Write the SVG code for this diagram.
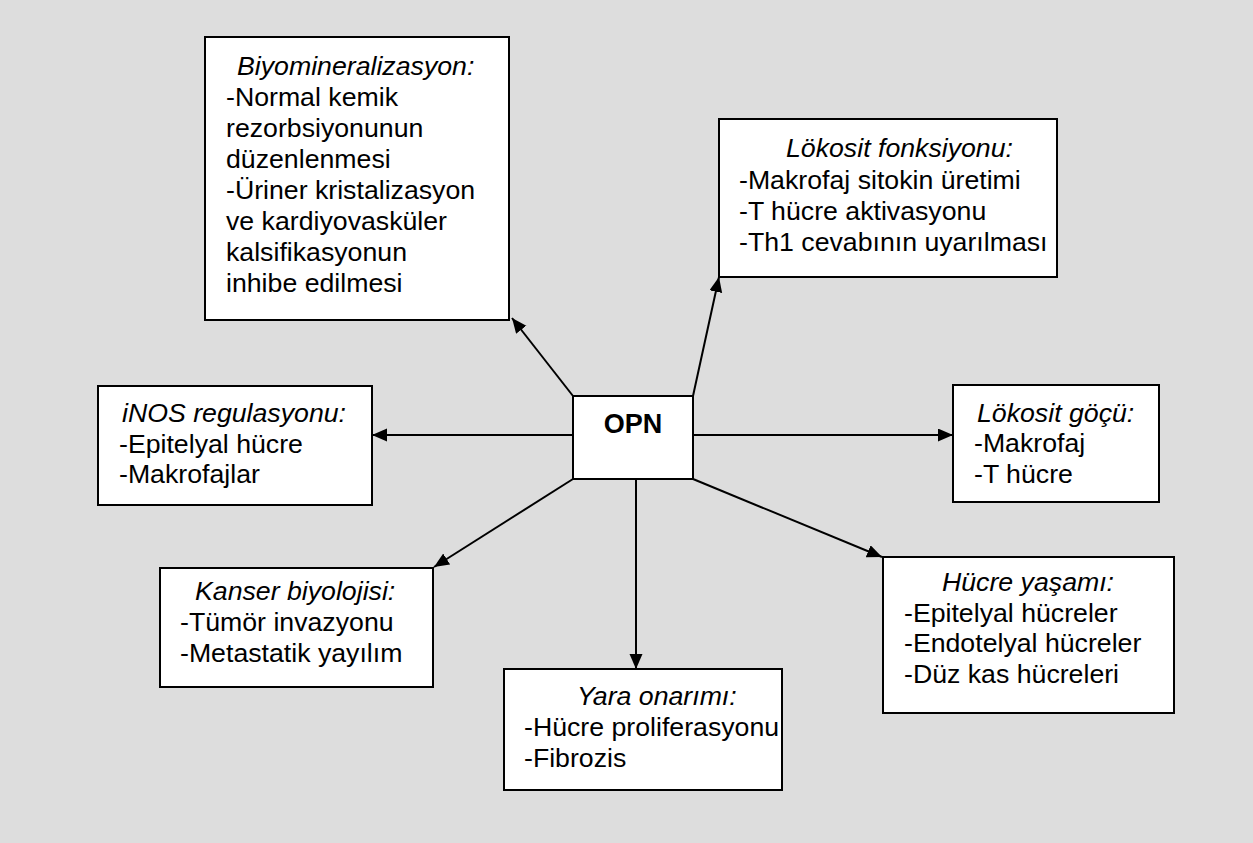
<svg xmlns="http://www.w3.org/2000/svg" width="1253" height="843" viewBox="0 0 1253 843">
<style>
.box{fill:#fff;stroke:#000;stroke-width:2}
.t{font-family:"Liberation Sans",Arial,sans-serif;font-size:26.7px;fill:#000}
.ti{font-style:italic}
.opn{font-family:"Liberation Sans",Arial,sans-serif;font-size:27px;font-weight:bold;fill:#000}
.c{stroke:#000;stroke-width:2;fill:none;marker-end:url(#ah)}
</style>
<defs>
<marker id="ah" markerUnits="userSpaceOnUse" markerWidth="16" markerHeight="14" refX="15" refY="6.5" orient="auto">
<path d="M0,0 L15,6.5 L0,13 Z" fill="#000"/>
</marker>
</defs>
<rect x="0" y="0" width="1253" height="843" fill="#dddddd"/>
<g id="connectors">
<line class="c" x1="573" y1="396" x2="512" y2="318"/>
<line class="c" x1="693" y1="396" x2="719" y2="277"/>
<line class="c" x1="573" y1="435" x2="372" y2="435"/>
<line class="c" x1="693" y1="435" x2="953" y2="435"/>
<line class="c" x1="573" y1="479" x2="434" y2="567"/>
<line class="c" x1="636" y1="479" x2="636" y2="669"/>
<line class="c" x1="693" y1="479" x2="882" y2="557"/>
</g>
<g id="opn">
<rect class="box" x="573" y="396" width="120" height="83"/>
<text class="opn" x="633" y="433" text-anchor="middle">OPN</text>
</g>
<g id="biyomineralizasyon">
<rect class="box" x="205" y="37" width="304" height="283"/>
<g class="t">
<text class="ti" x="237" y="75">Biyomineralizasyon:</text>
<text x="226" y="106">-Normal kemik</text>
<text x="226" y="137">rezorbsiyonunun</text>
<text x="226" y="168">düzenlenmesi</text>
<text x="226" y="199">-Üriner kristalizasyon</text>
<text x="226" y="230">ve kardiyovasküler</text>
<text x="226" y="261">kalsifikasyonun</text>
<text x="226" y="292">inhibe edilmesi</text>
</g>
</g>
<g id="lokosit-fonksiyonu">
<rect class="box" x="719" y="119" width="338" height="158"/>
<g class="t">
<text class="ti" x="786" y="157">Lökosit fonksiyonu:</text>
<text x="739" y="189">-Makrofaj sitokin üretimi</text>
<text x="739" y="220">-T hücre aktivasyonu</text>
<text x="739" y="251">-Th1 cevabının uyarılması</text>
</g>
</g>
<g id="inos">
<rect class="box" x="98" y="386" width="274" height="119"/>
<g class="t">
<text class="ti" x="122" y="422">iNOS regulasyonu:</text>
<text x="119" y="453">-Epitelyal hücre</text>
<text x="119" y="483">-Makrofajlar</text>
</g>
</g>
<g id="lokosit-gocu">
<rect class="box" x="953" y="385" width="206" height="117"/>
<g class="t">
<text class="ti" x="977" y="422">Lökosit göçü:</text>
<text x="974" y="452">-Makrofaj</text>
<text x="974" y="483">-T hücre</text>
</g>
</g>
<g id="kanser">
<rect class="box" x="160" y="568" width="273" height="119"/>
<g class="t">
<text class="ti" x="195" y="600">Kanser biyolojisi:</text>
<text x="180" y="631">-Tümör invazyonu</text>
<text x="180" y="662">-Metastatik yayılım</text>
</g>
</g>
<g id="yara">
<rect class="box" x="504" y="669" width="278" height="121"/>
<g class="t">
<text class="ti" x="577" y="705">Yara onarımı:</text>
<text x="524" y="736">-Hücre proliferasyonu</text>
<text x="524" y="767">-Fibrozis</text>
</g>
</g>
<g id="hucre-yasami">
<rect class="box" x="883" y="557" width="291" height="156"/>
<g class="t">
<text class="ti" x="942" y="591">Hücre yaşamı:</text>
<text x="904" y="622">-Epitelyal hücreler</text>
<text x="904" y="652">-Endotelyal hücreler</text>
<text x="904" y="683">-Düz kas hücreleri</text>
</g>
</g>
</svg>
